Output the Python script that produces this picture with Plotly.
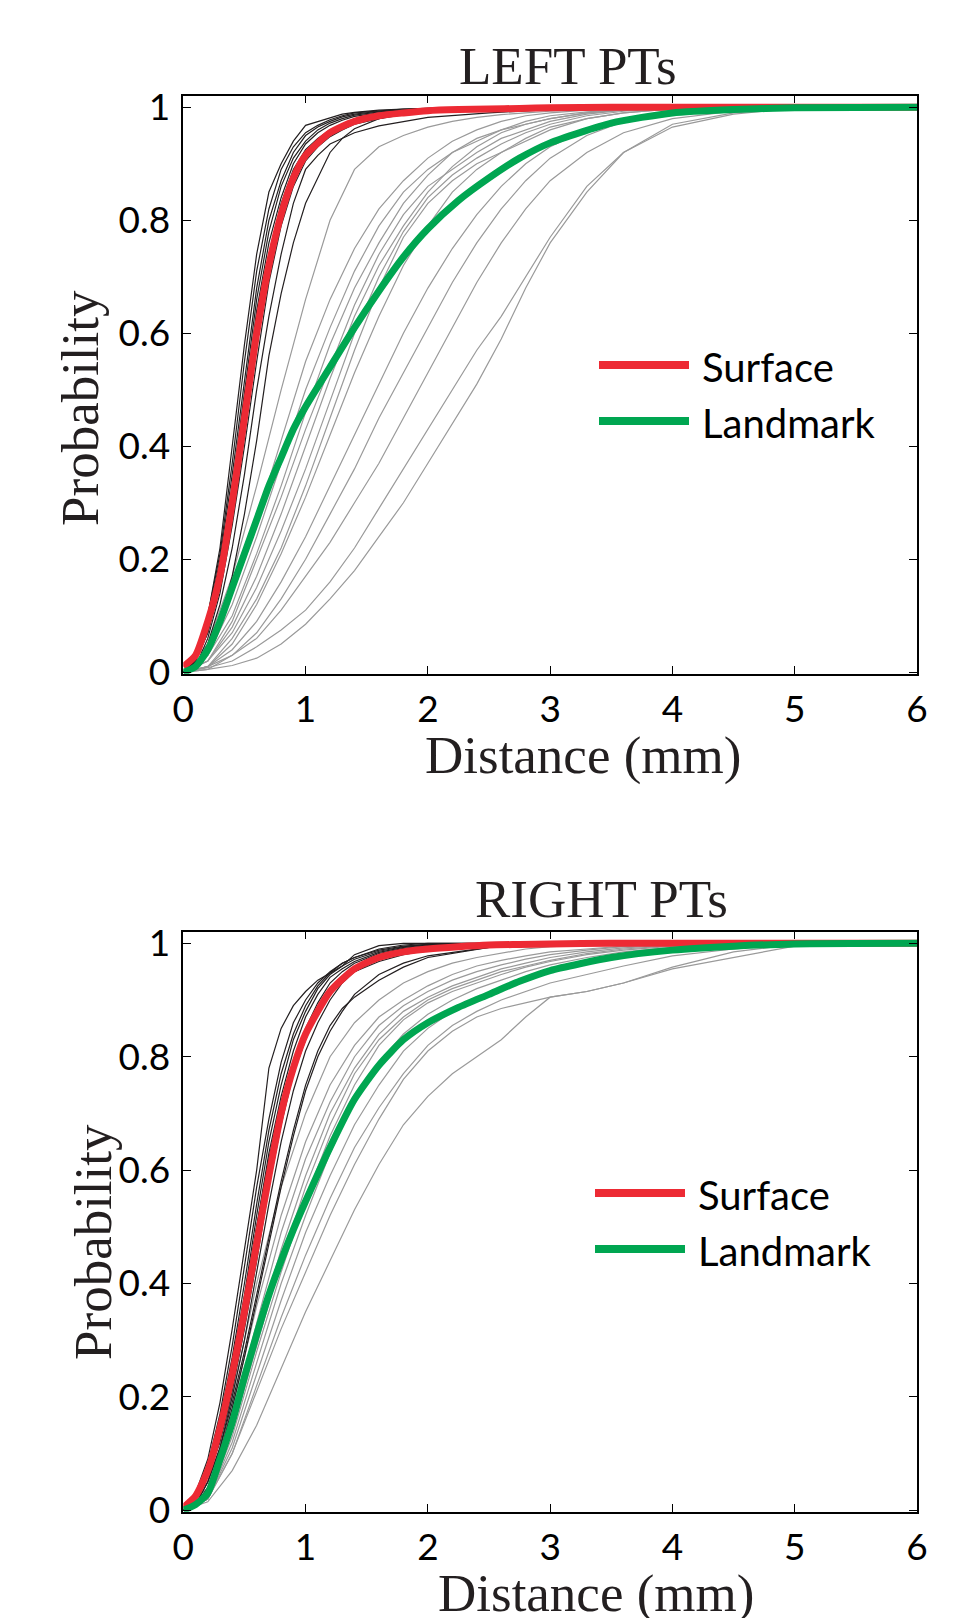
import plotly.graph_objects as go

# ---------------- data ----------------
# x grids (mm)
MEAN_X = [0, 0.1, 0.2, 0.3, 0.4, 0.5, 0.6, 0.7, 0.8, 0.9, 1.0, 1.2, 1.4, 1.6, 1.8, 2.0, 2.25, 2.5, 2.75, 3.0, 3.5, 4.0, 4.5, 5.0, 6.0]
SURF_X = [0, 0.1, 0.2, 0.3, 0.4, 0.5, 0.6, 0.7, 0.8, 0.9, 1.0, 1.1, 1.2, 1.3, 1.4, 1.6, 1.8, 2.0, 2.5, 3.0, 4.0, 6.0]
LAND_X = [0, 0.2, 0.4, 0.6, 0.8, 1.0, 1.2, 1.4, 1.6, 1.8, 2.0, 2.2, 2.4, 2.6, 2.8, 3.0, 3.3, 3.6, 4.0, 4.5, 5.0, 6.0]

X_TICKS = [0, 1, 2, 3, 4, 5, 6]
X_TICK_LABELS = ["0", "1", "2", "3", "4", "5", "6"]
Y_TICKS = [0, 0.2, 0.4, 0.6, 0.8, 1.0]
Y_TICK_LABELS = ["0", "0.2", "0.4", "0.6", "0.8", "1"]

PANEL_TITLES = ["LEFT PTs", "RIGHT PTs"]
X_LABEL = "Distance (mm)"
Y_LABEL = "Probability"
SERIES_NAMES = ["Surface", "Landmark"]

# LEFT panel means (on MEAN_X)
left_surface_mean = [0.01, 0.03, 0.09, 0.17, 0.30, 0.45, 0.60, 0.72, 0.81, 0.875, 0.915, 0.955, 0.975, 0.985, 0.99, 0.994, 0.996, 0.997, 0.998, 0.999, 1, 1, 1, 1, 1]
left_landmark_mean = [0, 0.01, 0.04, 0.09, 0.15, 0.21, 0.27, 0.33, 0.38, 0.43, 0.47, 0.54, 0.61, 0.675, 0.735, 0.785, 0.835, 0.875, 0.91, 0.937, 0.972, 0.99, 0.996, 0.999, 1]

# LEFT panel individual surface curves (on SURF_X)
left_surface_subjects = [
    [0, 0.03, 0.10, 0.22, 0.40, 0.58, 0.74, 0.85, 0.90, 0.94, 0.968, 0.975, 0.982, 0.988, 0.991, 0.995, 0.997, 0.998, 1, 1, 1, 1],
    [0, 0.03, 0.10, 0.21, 0.37, 0.55, 0.71, 0.82, 0.89, 0.93, 0.955, 0.968, 0.978, 0.985, 0.99, 0.994, 0.997, 0.998, 1, 1, 1, 1],
    [0, 0.02, 0.09, 0.20, 0.35, 0.52, 0.68, 0.80, 0.87, 0.92, 0.95, 0.965, 0.975, 0.983, 0.988, 0.993, 0.996, 0.998, 1, 1, 1, 1],
    [0, 0.02, 0.08, 0.18, 0.33, 0.50, 0.66, 0.78, 0.86, 0.91, 0.94, 0.96, 0.972, 0.98, 0.986, 0.992, 0.995, 0.997, 1, 1, 1, 1],
    [0, 0.02, 0.08, 0.17, 0.31, 0.48, 0.64, 0.76, 0.84, 0.90, 0.935, 0.955, 0.968, 0.977, 0.984, 0.99, 0.994, 0.997, 0.999, 1, 1, 1],
    [0, 0.02, 0.07, 0.16, 0.29, 0.45, 0.61, 0.74, 0.83, 0.89, 0.925, 0.945, 0.96, 0.97, 0.978, 0.987, 0.992, 0.995, 0.999, 1, 1, 1],
    [0, 0.02, 0.07, 0.15, 0.27, 0.42, 0.58, 0.71, 0.81, 0.87, 0.91, 0.935, 0.952, 0.965, 0.975, 0.985, 0.99, 0.994, 0.998, 1, 1, 1],
    [0, 0.01, 0.06, 0.14, 0.26, 0.40, 0.55, 0.69, 0.79, 0.86, 0.905, 0.93, 0.948, 0.96, 0.97, 0.98, 0.987, 0.992, 0.997, 0.999, 1, 1],
    [0, 0.01, 0.05, 0.12, 0.22, 0.35, 0.50, 0.63, 0.74, 0.83, 0.89, 0.915, 0.935, 0.945, 0.955, 0.967, 0.975, 0.982, 0.99, 0.996, 1, 1],
    [0, 0.01, 0.04, 0.09, 0.17, 0.28, 0.41, 0.56, 0.67, 0.76, 0.83, 0.875, 0.92, 0.945, 0.962, 0.98, 0.99, 0.995, 0.999, 1, 1, 1],
]

# LEFT panel individual landmark curves (on LAND_X)
left_landmark_subjects = [
    [0, 0.05, 0.17, 0.33, 0.50, 0.66, 0.80, 0.89, 0.93, 0.95, 0.965, 0.975, 0.982, 0.987, 0.99, 0.993, 0.996, 0.998, 1, 1, 1, 1],
    [0, 0.04, 0.14, 0.27, 0.41, 0.55, 0.66, 0.75, 0.82, 0.87, 0.91, 0.94, 0.96, 0.975, 0.985, 0.99, 0.995, 0.998, 1, 1, 1, 1],
    [0, 0.03, 0.12, 0.24, 0.37, 0.50, 0.61, 0.71, 0.79, 0.85, 0.89, 0.92, 0.945, 0.96, 0.975, 0.985, 0.992, 0.996, 0.999, 1, 1, 1],
    [0, 0.03, 0.10, 0.21, 0.33, 0.46, 0.58, 0.68, 0.76, 0.83, 0.88, 0.92, 0.94, 0.96, 0.97, 0.98, 0.99, 0.995, 0.999, 1, 1, 1],
    [0, 0.02, 0.09, 0.20, 0.31, 0.43, 0.54, 0.65, 0.74, 0.81, 0.86, 0.89, 0.92, 0.945, 0.96, 0.975, 0.988, 0.995, 0.999, 1, 1, 1],
    [0, 0.02, 0.08, 0.17, 0.28, 0.40, 0.52, 0.63, 0.72, 0.79, 0.85, 0.895, 0.93, 0.955, 0.97, 0.98, 0.99, 0.996, 1, 1, 1, 1],
    [0, 0.02, 0.07, 0.15, 0.25, 0.36, 0.48, 0.60, 0.70, 0.78, 0.84, 0.88, 0.91, 0.935, 0.955, 0.97, 0.985, 0.993, 0.998, 1, 1, 1],
    [0, 0.01, 0.06, 0.13, 0.22, 0.33, 0.45, 0.57, 0.68, 0.77, 0.83, 0.87, 0.90, 0.92, 0.94, 0.96, 0.98, 0.99, 0.997, 1, 1, 1],
    [0, 0.01, 0.05, 0.12, 0.21, 0.31, 0.42, 0.53, 0.63, 0.72, 0.79, 0.85, 0.89, 0.92, 0.945, 0.965, 0.98, 0.99, 0.997, 1, 1, 1],
    [0, 0.01, 0.04, 0.09, 0.16, 0.24, 0.33, 0.42, 0.51, 0.60, 0.68, 0.75, 0.81, 0.86, 0.90, 0.93, 0.96, 0.98, 0.993, 0.998, 1, 1],
    [0, 0.01, 0.03, 0.07, 0.13, 0.20, 0.28, 0.36, 0.45, 0.53, 0.61, 0.69, 0.76, 0.82, 0.87, 0.91, 0.95, 0.975, 0.99, 0.997, 1, 1],
    [0, 0.005, 0.03, 0.06, 0.11, 0.17, 0.23, 0.30, 0.37, 0.45, 0.53, 0.61, 0.69, 0.76, 0.82, 0.87, 0.92, 0.955, 0.98, 0.993, 0.998, 1],
    [0, 0.008, 0.02, 0.045, 0.075, 0.11, 0.16, 0.22, 0.29, 0.36, 0.43, 0.50, 0.57, 0.63, 0.70, 0.77, 0.86, 0.92, 0.97, 0.99, 0.998, 1],
    [0, 0.005, 0.012, 0.025, 0.05, 0.085, 0.13, 0.18, 0.24, 0.30, 0.37, 0.44, 0.51, 0.59, 0.68, 0.76, 0.85, 0.92, 0.965, 0.988, 0.998, 1],
]

# RIGHT panel means (on MEAN_X)
right_surface_mean = [0.005, 0.025, 0.07, 0.145, 0.24, 0.35, 0.47, 0.59, 0.70, 0.78, 0.84, 0.915, 0.955, 0.975, 0.985, 0.99, 0.994, 0.997, 0.998, 0.999, 1, 1, 1, 1, 1]
right_landmark_mean = [0, 0.01, 0.03, 0.09, 0.155, 0.235, 0.31, 0.38, 0.44, 0.495, 0.545, 0.64, 0.725, 0.785, 0.83, 0.86, 0.887, 0.91, 0.933, 0.952, 0.975, 0.988, 0.995, 0.999, 1]

# RIGHT panel individual surface curves (on SURF_X)
right_surface_subjects = [
    [0, 0.03, 0.09, 0.19, 0.32, 0.46, 0.60, 0.78, 0.85, 0.89, 0.915, 0.935, 0.948, 0.96, 0.98, 0.996, 1, 1, 1, 1, 1, 1],
    [0, 0.03, 0.08, 0.17, 0.29, 0.43, 0.57, 0.69, 0.79, 0.86, 0.90, 0.93, 0.95, 0.965, 0.975, 0.99, 0.997, 1, 1, 1, 1, 1],
    [0, 0.02, 0.08, 0.16, 0.27, 0.40, 0.54, 0.67, 0.77, 0.84, 0.89, 0.925, 0.948, 0.965, 0.975, 0.988, 0.995, 0.998, 1, 1, 1, 1],
    [0, 0.02, 0.07, 0.15, 0.26, 0.38, 0.52, 0.65, 0.75, 0.83, 0.88, 0.92, 0.945, 0.96, 0.972, 0.986, 0.994, 0.998, 1, 1, 1, 1],
    [0, 0.02, 0.07, 0.14, 0.24, 0.36, 0.50, 0.63, 0.73, 0.81, 0.87, 0.91, 0.94, 0.955, 0.968, 0.984, 0.993, 0.997, 1, 1, 1, 1],
    [0, 0.02, 0.06, 0.13, 0.23, 0.34, 0.47, 0.60, 0.71, 0.79, 0.85, 0.895, 0.93, 0.95, 0.965, 0.982, 0.991, 0.996, 1, 1, 1, 1],
    [0, 0.02, 0.06, 0.12, 0.21, 0.32, 0.44, 0.57, 0.68, 0.77, 0.83, 0.88, 0.915, 0.94, 0.957, 0.977, 0.988, 0.995, 0.999, 1, 1, 1],
    [0, 0.01, 0.05, 0.11, 0.20, 0.30, 0.42, 0.54, 0.65, 0.74, 0.81, 0.86, 0.90, 0.93, 0.95, 0.972, 0.985, 0.993, 0.999, 1, 1, 1],
    [0, 0.02, 0.07, 0.15, 0.25, 0.37, 0.50, 0.62, 0.72, 0.79, 0.845, 0.885, 0.915, 0.935, 0.95, 0.968, 0.98, 0.988, 0.997, 1, 1, 1],
    [0, 0.01, 0.05, 0.11, 0.19, 0.28, 0.38, 0.48, 0.58, 0.67, 0.75, 0.81, 0.855, 0.885, 0.905, 0.935, 0.958, 0.975, 0.993, 0.999, 1, 1],
    [0, 0.01, 0.04, 0.10, 0.18, 0.27, 0.37, 0.47, 0.57, 0.66, 0.74, 0.80, 0.845, 0.88, 0.91, 0.945, 0.965, 0.978, 0.993, 0.999, 1, 1],
]

# RIGHT panel individual landmark curves (on LAND_X)
right_landmark_subjects = [
    [0, 0.05, 0.20, 0.40, 0.57, 0.70, 0.80, 0.86, 0.90, 0.93, 0.95, 0.965, 0.975, 0.983, 0.99, 0.994, 0.997, 0.999, 1, 1, 1, 1],
    [0, 0.04, 0.18, 0.36, 0.52, 0.65, 0.75, 0.82, 0.87, 0.90, 0.925, 0.945, 0.96, 0.97, 0.978, 0.985, 0.99, 0.995, 0.998, 1, 1, 1],
    [0, 0.03, 0.16, 0.33, 0.49, 0.62, 0.72, 0.80, 0.855, 0.89, 0.915, 0.935, 0.95, 0.962, 0.972, 0.98, 0.988, 0.994, 0.998, 1, 1, 1],
    [0, 0.03, 0.15, 0.31, 0.46, 0.59, 0.70, 0.78, 0.84, 0.88, 0.905, 0.925, 0.94, 0.955, 0.965, 0.975, 0.985, 0.992, 0.997, 1, 1, 1],
    [0, 0.03, 0.14, 0.29, 0.44, 0.57, 0.68, 0.77, 0.83, 0.87, 0.90, 0.92, 0.935, 0.95, 0.96, 0.97, 0.982, 0.99, 0.996, 0.999, 1, 1],
    [0, 0.02, 0.13, 0.28, 0.42, 0.55, 0.66, 0.75, 0.82, 0.865, 0.895, 0.915, 0.93, 0.945, 0.958, 0.968, 0.98, 0.988, 0.995, 0.999, 1, 1],
    [0, 0.02, 0.12, 0.26, 0.40, 0.52, 0.63, 0.72, 0.79, 0.84, 0.875, 0.90, 0.92, 0.935, 0.95, 0.962, 0.975, 0.985, 0.993, 0.998, 1, 1],
    [0, 0.02, 0.11, 0.24, 0.37, 0.49, 0.59, 0.68, 0.75, 0.81, 0.85, 0.88, 0.90, 0.92, 0.935, 0.95, 0.965, 0.978, 0.99, 0.997, 1, 1],
    [0, 0.02, 0.10, 0.22, 0.34, 0.45, 0.55, 0.64, 0.71, 0.77, 0.82, 0.855, 0.88, 0.90, 0.915, 0.93, 0.945, 0.96, 0.978, 0.99, 0.998, 1],
    [0, 0.02, 0.10, 0.21, 0.32, 0.42, 0.52, 0.61, 0.69, 0.76, 0.81, 0.845, 0.87, 0.885, 0.895, 0.905, 0.915, 0.93, 0.955, 0.975, 0.995, 1],
    [0, 0.015, 0.07, 0.15, 0.25, 0.35, 0.44, 0.53, 0.61, 0.68, 0.73, 0.77, 0.80, 0.83, 0.87, 0.905, 0.915, 0.93, 0.958, 0.985, 0.998, 1],
]

# ---------------- styling / layout ----------------
W, H = 969, 1618
RED = "#ED2A34"
GREEN = "#00A651"
BLACK = "#231F20"
GRAY = "#9A9A9A"
SERIF = "Liberation Serif, Times New Roman, serif"
SANS = "Lato, Open Sans, sans-serif"

X_DOM = [183.3 / W, 917.0 / W]
Y_RANGE = [-0.0025, 1.0205]
TOP_DOM = [1 - 673.7 / H, 1 - 95.7 / H]
BOT_DOM = [1 - 1511.7 / H, 1 - 931.7 / H]

fig = go.Figure()

panels = [
    ("x", "y", left_surface_mean, left_landmark_mean, left_surface_subjects, left_landmark_subjects),
    ("x2", "y2", right_surface_mean, right_landmark_mean, right_surface_subjects, right_landmark_subjects),
]

for xa, ya, s_mean, l_mean, s_subj, l_subj in panels:
    for curve in l_subj:
        fig.add_trace(go.Scatter(x=LAND_X, y=curve, mode="lines", xaxis=xa, yaxis=ya,
                                 line=dict(color=GRAY, width=1.2), showlegend=False, hoverinfo="skip"))
    for curve in s_subj:
        fig.add_trace(go.Scatter(x=SURF_X, y=curve, mode="lines", xaxis=xa, yaxis=ya,
                                 line=dict(color=BLACK, width=1.2), showlegend=False, hoverinfo="skip"))
    fig.add_trace(go.Scatter(x=MEAN_X, y=s_mean, mode="lines", xaxis=xa, yaxis=ya, name=SERIES_NAMES[0],
                             line=dict(color=RED, width=7, shape="spline", smoothing=0.6), showlegend=False))
    fig.add_trace(go.Scatter(x=MEAN_X, y=l_mean, mode="lines", xaxis=xa, yaxis=ya, name=SERIES_NAMES[1],
                             line=dict(color=GREEN, width=7, shape="spline", smoothing=0.6), showlegend=False))

axis_common = dict(
    showgrid=False, zeroline=False, showline=True, linecolor="black", linewidth=1.5,
    mirror="ticks", ticks="inside", ticklen=8, tickwidth=1.2, tickcolor="black",
    tickfont=dict(family=SANS, size=37, color="black"), automargin=False,
)

fig.update_layout(
    width=W, height=H, autosize=False,
    margin=dict(l=0, r=0, t=0, b=0, pad=0),
    paper_bgcolor="white", plot_bgcolor="white",
    showlegend=False,
    xaxis=dict(domain=X_DOM, range=[0, 6], anchor="y", tickvals=X_TICKS, ticktext=X_TICK_LABELS,
               ticklabelstandoff=2, **axis_common),
    yaxis=dict(domain=TOP_DOM, range=Y_RANGE, anchor="x", tickvals=Y_TICKS, ticktext=Y_TICK_LABELS,
               ticklabelstandoff=4, **axis_common),
    xaxis2=dict(domain=X_DOM, range=[0, 6], anchor="y2", tickvals=X_TICKS, ticktext=X_TICK_LABELS,
                ticklabelstandoff=2, **axis_common),
    yaxis2=dict(domain=BOT_DOM, range=Y_RANGE, anchor="x2", tickvals=Y_TICKS, ticktext=Y_TICK_LABELS,
                ticklabelstandoff=4, **axis_common),
)

def px(x):
    return x / W

def py(y):
    return 1 - y / H

annotations = []
shapes = []

# titles, axis labels (pixel positions in page)
text_specs = [
    (PANEL_TITLES[0], 568, 66, 0),
    (PANEL_TITLES[1], 601, 899, 0),
    (X_LABEL, 583, 756, 0),
    (X_LABEL, 596, 1593, 0),
    (Y_LABEL, 80, 408, -90),
    (Y_LABEL, 93, 1242, -90),
]
for txt, cx, cy, ang in text_specs:
    annotations.append(dict(text=txt, x=px(cx), y=py(cy), xref="paper", yref="paper",
                            xanchor="center", yanchor="middle", showarrow=False, textangle=ang,
                            font=dict(family=SERIF, size=53, color="#231F20")))

# legends
legend_specs = [
    (599, 689, 700, 365, 421),
    (595, 685, 696, 1193, 1249),
]
for x0, x1, tx, yS, yL in legend_specs:
    for yy, col, name in [(yS, RED, SERIES_NAMES[0]), (yL, GREEN, SERIES_NAMES[1])]:
        shapes.append(dict(type="line", xref="paper", yref="paper", x0=px(x0), x1=px(x1), y0=py(yy), y1=py(yy),
                           line=dict(color=col, width=8)))
        annotations.append(dict(text=name, x=px(tx), y=py(yy + 2), xref="paper", yref="paper",
                                xanchor="left", yanchor="middle", showarrow=False,
                                font=dict(family=SANS, size=40, color="black")))

fig.update_layout(annotations=annotations, shapes=shapes)

fig.write_html("out.html", config={"displayModeBar": False},
               post_script="document.body.style.margin='0';document.body.style.padding='0';")
